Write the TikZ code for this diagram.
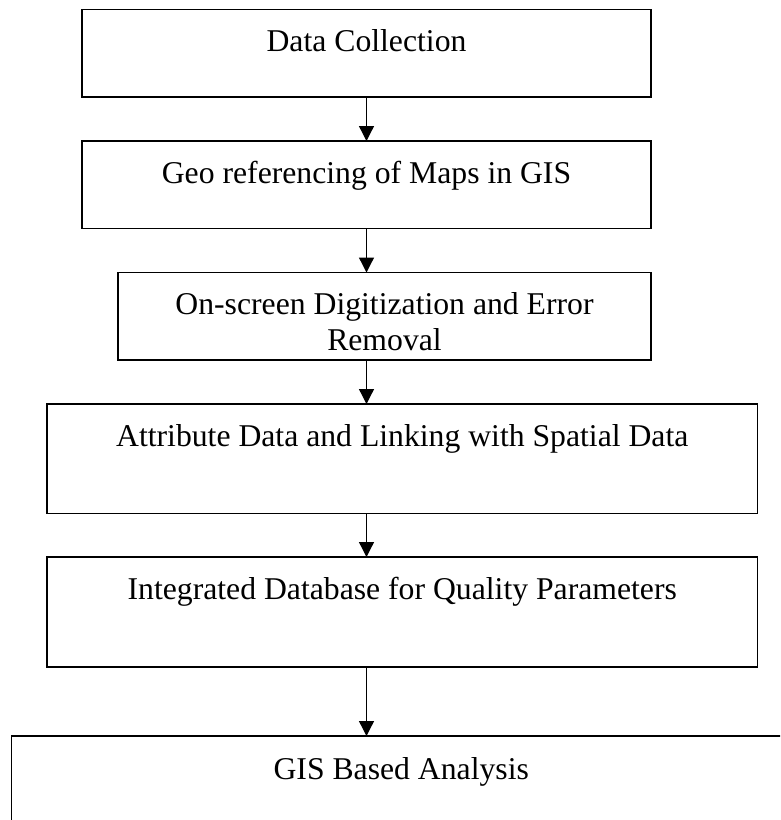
\documentclass[tikz,border=0pt]{standalone}
\usepackage{fontspec}
\setmainfont{Liberation Serif}
\usetikzlibrary{arrows.meta}

\begin{document}
\begin{tikzpicture}[->,>={Triangle[width=15pt,length=15pt]},x=1pt,y=1pt,
                    line width=1.3pt]
  \tikzstyle{stagebox}=[draw,rectangle,line width=1.8pt,anchor=north west,
                        inner sep=0pt,outer sep=0pt,minimum height=87.5pt]
  \tikzstyle{stagetext}=[anchor=north,yshift=-19.5pt,inner sep=0pt,align=center,
                         font=\fontsize{31.7}{36}\selectfont]

  \useasboundingbox (0,0) rectangle (780,-820);
  \clip (0,0) rectangle (780,-820);

  \node[stagebox,minimum width=569pt,
        label={[stagetext]north:Data Collection}]               (dc)    at (82,-9.5)   {};
  \node[stagebox,minimum width=569pt,
        label={[stagetext]north:Geo referencing of Maps in GIS}] (geo)   at (82,-141)   {};
  \node[stagebox,minimum width=533pt,
        label={[stagetext]north:On-screen Digitization and Error\\Removal}] (dig) at (118,-272.5) {};
  \node[stagebox,minimum width=710.5pt,minimum height=109.5pt,
        label={[stagetext]north:Attribute Data and Linking with Spatial Data}] (attr) at (47,-404) {};
  \node[stagebox,minimum width=710.5pt,minimum height=110pt,
        label={[stagetext]north:Integrated Database for Quality Parameters}] (integ) at (47,-557) {};
  \node[stagebox,minimum width=779.5pt,minimum height=120pt,
        label={[stagetext,yshift=-1pt]north:GIS Based Analysis}] (gis)   at (11.5,-736) {};

  \path (dc.south)          edge (dc.south |- geo.north)
        (dc.south |- geo.south)   edge (dc.south |- dig.north)
        (dc.south |- dig.south)   edge (dc.south |- attr.north)
        (dc.south |- attr.south)  edge (dc.south |- integ.north)
        (dc.south |- integ.south) edge (dc.south |- gis.north);
\end{tikzpicture}
\end{document}
